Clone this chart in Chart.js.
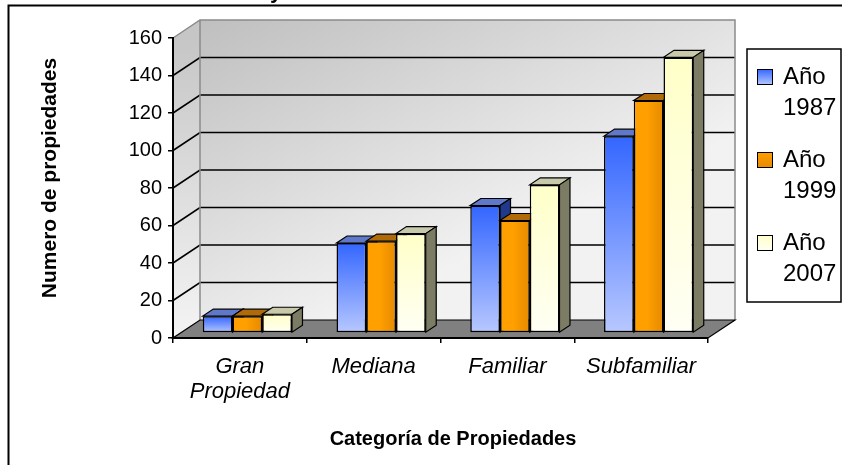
<!DOCTYPE html>
<html>
<head>
<meta charset="utf-8">
<script src="https://cdn.jsdelivr.net/npm/chart.js@4.4.1/dist/chart.umd.min.js"></script>
<style>
  html, body { margin: 0; padding: 0; background: #fff; }
  #wrap { width: 842px; height: 465px; position: relative; }
</style>
</head>
<body>
<div id="wrap"><canvas id="chart"></canvas></div>
<script>
// data
const categories = [['Gran', 'Propiedad'], 'Mediana', 'Familiar', 'Subfamiliar'];
const seriesNames = [['Año', '1987'], ['Año', '1999'], ['Año', '2007']];
const values1987 = [9, 48, 68, 105];
const values1999 = [9, 49, 60, 124];
const values2007 = [10, 53, 79, 147];
const yMin = 0, yMax = 160, yStep = 20;
const xTitle = 'Categoría de Propiedades';
const yTitle = 'Numero de propiedades';

const FONT = '"Liberation Sans", Arial, sans-serif';

// per series: front gradient, top face, side face
const palette = [
  { front: ['#3366ff', '#b8c8ff'], top: '#6078c8', side: '#1f3a8c', dir: 'v' },
  { front: ['#ff9f00', '#e68a00'], top: '#b06a08', side: '#9a5a00', dir: 'h' },
  { front: ['#ffffc8', '#fffff4'], top: '#c8c8aa', side: '#7c7c64', dir: 'v' }
];

const CAT_PCT = 0.667;
const WALL = { x: 27, y: -18 };      // back wall offset from the front plane
const BAR_SHIFT = { x: 7.5, y: -5 }; // bars stand a little way into the floor
const BAR_DEPTH = { x: 10.5, y: -7 };

function frontFill(ctx) {
  const p = palette[ctx.datasetIndex];
  const chart = ctx.chart;
  const xs = chart.scales.x, ys = chart.scales.y;
  if (ctx.type !== 'data' || !chart.chartArea || !xs || !ys) return p.front[0];
  const top = ys.getPixelForValue(ctx.raw);
  const base = ys.getPixelForValue(0);
  let g;
  if (p.dir === 'v') {
    g = chart.ctx.createLinearGradient(0, top, 0, base);
    g.addColorStop(0, p.front[0]);
    g.addColorStop(1, p.front[1]);
  } else {
    const barW = xs.width / categories.length * CAT_PCT / 3;
    const left = xs.getPixelForValue(ctx.dataIndex) - 1.5 * barW + ctx.datasetIndex * barW;
    g = chart.ctx.createLinearGradient(left, 0, left + barW, 0);
    g.addColorStop(0, p.front[0]);
    g.addColorStop(0.45, p.front[0]);
    g.addColorStop(1, p.front[1]);
  }
  return g;
}

function poly(c, pts, fill, stroke, lw) {
  c.beginPath();
  c.moveTo(pts[0][0], pts[0][1]);
  for (let i = 1; i < pts.length; i++) c.lineTo(pts[i][0], pts[i][1]);
  c.closePath();
  if (fill) { c.fillStyle = fill; c.fill(); }
  if (stroke) { c.strokeStyle = stroke; c.lineWidth = lw || 1; c.stroke(); }
}

const scene3d = {
  id: 'scene3d',
  beforeDraw(chart) {
    const c = chart.ctx;
    const { left, right, top, bottom } = chart.chartArea;
    const ys = chart.scales.y;
    const dx = WALL.x, dy = WALL.y;

    // back wall
    const bw = c.createLinearGradient(left + dx, top + dy, left + dx + 140, bottom + dy);
    bw.addColorStop(0, '#bfbfbf');
    bw.addColorStop(1, '#f2f2f2');
    c.fillStyle = bw;
    c.fillRect(left + dx, top + dy, right - left, bottom - top);

    // side wall
    const sw = c.createLinearGradient(0, top, 0, bottom);
    sw.addColorStop(0, '#c6c6c6');
    sw.addColorStop(1, '#f4f4f4');
    poly(c, [[left, bottom], [left, top], [left + dx, top + dy], [left + dx, bottom + dy]], sw);

    // gridlines on the walls
    c.save();
    c.strokeStyle = '#000';
    c.lineWidth = 1.6;
    for (let v = yMin + yStep; v < yMax; v += yStep) {
      const yf = ys.getPixelForValue(v);
      c.beginPath();
      c.moveTo(left, yf);
      c.lineTo(left + dx, yf + dy);
      c.lineTo(right + dx, yf + dy);
      c.stroke();
    }
    c.restore();

    // wall outlines
    c.save();
    c.strokeStyle = '#8a8a8a';
    c.lineWidth = 1.5;
    c.beginPath();
    c.moveTo(left, top);
    c.lineTo(left + dx, top + dy);
    c.lineTo(right + dx, top + dy);
    c.lineTo(right + dx, bottom + dy);
    c.moveTo(left + dx, top + dy);
    c.lineTo(left + dx, bottom + dy);
    c.stroke();
    c.restore();

    // floor
    poly(c, [[left, bottom], [right, bottom], [right + dx, bottom + dy], [left + dx, bottom + dy]],
      '#808080', '#000', 1.2);
  },
  // bars are painted below, series by series from left to right
  beforeDatasetDraw() {
    return false;
  },
  afterDatasetsDraw(chart) {
    const c = chart.ctx;
    const dx = BAR_DEPTH.x, dy = BAR_DEPTH.y;
    c.save();
    c.translate(BAR_SHIFT.x, BAR_SHIFT.y);
    chart.data.datasets.forEach((ds, i) => {
      const p = palette[i];
      chart.getDatasetMeta(i).data.forEach(bar => {
        bar.draw(c);
        const { x, y, base, width } = bar.getProps(['x', 'y', 'base', 'width'], true);
        const l = x - width / 2, r = x + width / 2;
        poly(c, [[l, y], [r, y], [r + dx, y + dy], [l + dx, y + dy]], p.top, '#000', 1.2);
        poly(c, [[r, y], [r + dx, y + dy], [r + dx, base + dy], [r, base]], p.side, '#000', 1.2);
      });
    });
    c.restore();
  },
  afterDraw(chart) {
    const c = chart.ctx;
    c.save();

    // axis titles
    c.fillStyle = '#000';
    c.textAlign = 'center';
    c.textBaseline = 'middle';
    c.font = 'bold 20px ' + FONT;
    c.fillText(xTitle, 453, 439);
    c.save();
    c.translate(50, 178);
    c.rotate(-Math.PI / 2);
    c.font = 'bold 21px ' + FONT;
    c.fillText(yTitle, 0, 0);
    c.restore();

    // title line running off the top edge
    c.textAlign = 'left';
    c.textBaseline = 'alphabetic';
    c.font = 'bold 22px ' + FONT;
    c.fillText('y', 270, -2);

    // legend
    c.fillStyle = '#fff';
    c.fillRect(747, 49, 94, 253);
    c.strokeStyle = '#000';
    c.lineWidth = 1.5;
    c.strokeRect(747, 49, 94, 253);
    c.font = '24px ' + FONT;
    c.textBaseline = 'middle';
    chart.data.datasets.forEach((ds, i) => {
      const yA = 77 + i * 83;
      const p = palette[i];
      const mg = c.createLinearGradient(757, yA - 8, 757, yA + 8);
      mg.addColorStop(0, p.front[0]);
      mg.addColorStop(1, p.front[1]);
      c.fillStyle = mg;
      c.fillRect(757, yA - 8, 16, 16);
      c.strokeStyle = '#000';
      c.lineWidth = 1;
      c.strokeRect(757.5, yA - 7.5, 15, 15);
      c.fillStyle = '#000';
      ds.label.forEach((line, k) => c.fillText(line, 783, yA + k * 31.5));
    });

    // outer frame
    c.strokeStyle = '#000';
    c.lineWidth = 2;
    c.beginPath();
    c.moveTo(8.5, 470);
    c.lineTo(8.5, 5.5);
    c.lineTo(850, 5.5);
    c.stroke();
    c.restore();
  }
};

new Chart(document.getElementById('chart'), {
  type: 'bar',
  data: {
    labels: categories,
    datasets: [values1987, values1999, values2007].map((vals, i) => ({
      label: seriesNames[i],
      data: vals,
      backgroundColor: frontFill,
      borderColor: '#000',
      borderWidth: 1.5,
      borderSkipped: false,
      categoryPercentage: CAT_PCT,
      barPercentage: 1,
      clip: false
    }))
  },
  options: {
    responsive: true,
    maintainAspectRatio: false,
    animation: false,
    layout: { padding: { top: 38, right: 134, left: 0, bottom: 0 } },
    plugins: {
      legend: { display: false },
      tooltip: { enabled: false }
    },
    scales: {
      x: {
        grid: { drawOnChartArea: false, tickLength: 5, color: '#000', lineWidth: 1.5, offset: true },
        border: { display: true, color: '#000', width: 2 },
        ticks: {
          color: '#000', maxRotation: 0, autoSkip: false, padding: 11,
          font: { family: FONT, size: 22, style: 'italic', lineHeight: 1.15 }
        },
        afterFit(s) { s.height = 127; }
      },
      y: {
        min: yMin, max: yMax,
        grid: { drawOnChartArea: false, tickLength: 5, color: '#000', lineWidth: 1.5 },
        border: { display: true, color: '#000', width: 2 },
        ticks: { stepSize: yStep, color: '#000', padding: 6, font: { family: FONT, size: 20 } },
        afterFit(s) { s.width = 173; }
      }
    }
  },
  plugins: [scene3d]
});
</script>
</body>
</html>
